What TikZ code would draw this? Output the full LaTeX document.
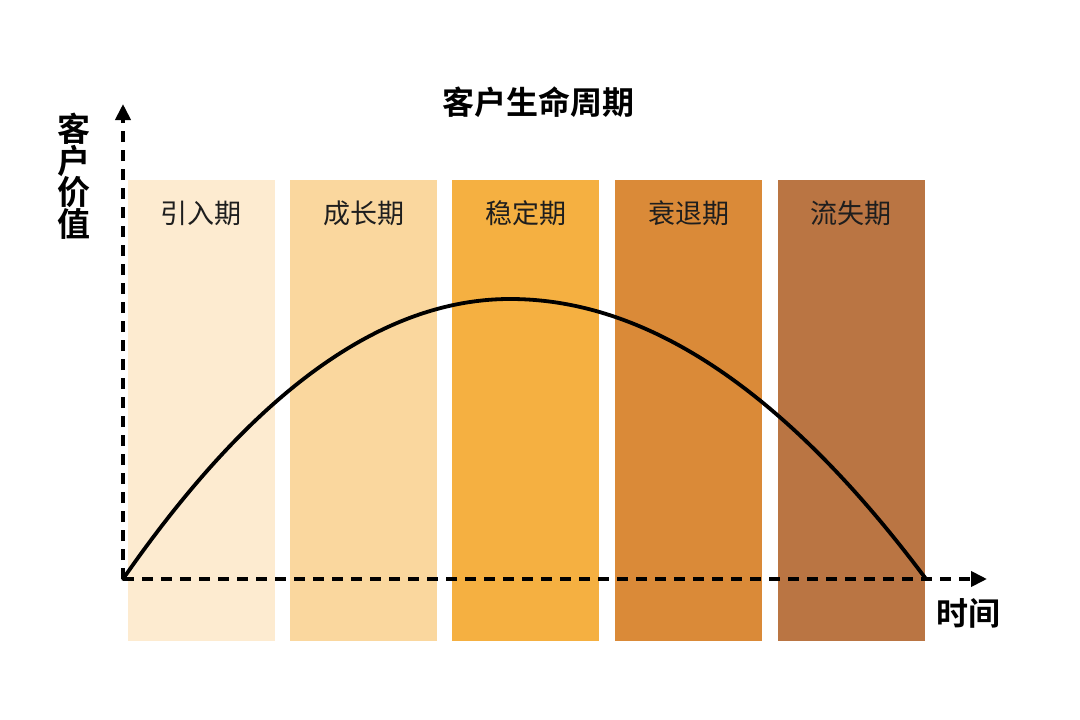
\documentclass[tikz,border=0pt]{standalone}
\usepackage{fontspec}
\newfontfamily\cjk{Noto Sans CJK SC}
\newfontfamily\cjkb{Noto Sans CJK SC Bold}
\usetikzlibrary{arrows.meta}
\definecolor{cA}{HTML}{FDEBD0}
\definecolor{cB}{HTML}{FAD79E}
\definecolor{cC}{HTML}{F5B041}
\definecolor{cD}{HTML}{DA8A38}
\definecolor{cE}{HTML}{BA7543}
\definecolor{txt}{HTML}{1E1E1E}
\tikzset{
  stage/.style={draw=none, inner sep=0pt, anchor=north west, minimum width=147pt, minimum height=461pt},
  stagelabel/.style={font=\cjk\fontsize{27}{28}\selectfont, text=txt, anchor=center},
  axisline/.style={line width=3.8pt, dash pattern=on 11pt off 8pt, -{Triangle[length=16pt,width=15pt]}},
  curveline/.style={line width=3.8pt, line cap=round},
  bigbold/.style={font=\cjkb\fontsize{32}{33}\selectfont, text=black}
}
\begin{document}
\begin{tikzpicture}[x=1pt,y=-1pt]
\useasboundingbox (0,0) rectangle (1080,720);
\fill[white] (0,0) rectangle (1080,720);
% bars
\node[stage, fill=cA] (b1) at (127.5,180) {};
\node[stage, fill=cB] (b2) at (290,180) {};
\node[stage, fill=cC] (b3) at (452,180) {};
\node[stage, fill=cD] (b4) at (615,180) {};
\node[stage, fill=cE] (b5) at (777.5,180) {};
\node[stagelabel] (l1) at (201,213) {引入期};
\node[stagelabel] (l2) at (363.5,213) {成长期};
\node[stagelabel] (l3) at (525.5,213) {稳定期};
\node[stagelabel] (l4) at (688.5,213) {衰退期};
\node[stagelabel] (l5) at (851,213) {流失期};
% axes
\coordinate (o) at (123,579);
\coordinate (ytip) at (123,104);
\coordinate (xtip) at (987,579);
\coordinate (peak) at (510,299);
\coordinate (cend) at (926,579);
\draw[axisline] (o) -- (ytip);
\draw[axisline] (o) -- (xtip);
% curve
\draw[curveline] (o) .. controls (252,393) and (381,299) .. (peak)
  .. controls (649,299) and (787,393) .. (cend);
% texts
\node[bigbold, inner sep=0pt] (title) at (538,102) {客户生命周期};
\node[bigbold, inner sep=0pt, align=center, font=\cjkb\fontsize{33}{31.5}\selectfont] (ylab) at (74,176) {客\\户\\价\\值};
\node[bigbold, inner sep=0pt] (xlab) at (968,613) {时间};
\end{tikzpicture}
\end{document}
